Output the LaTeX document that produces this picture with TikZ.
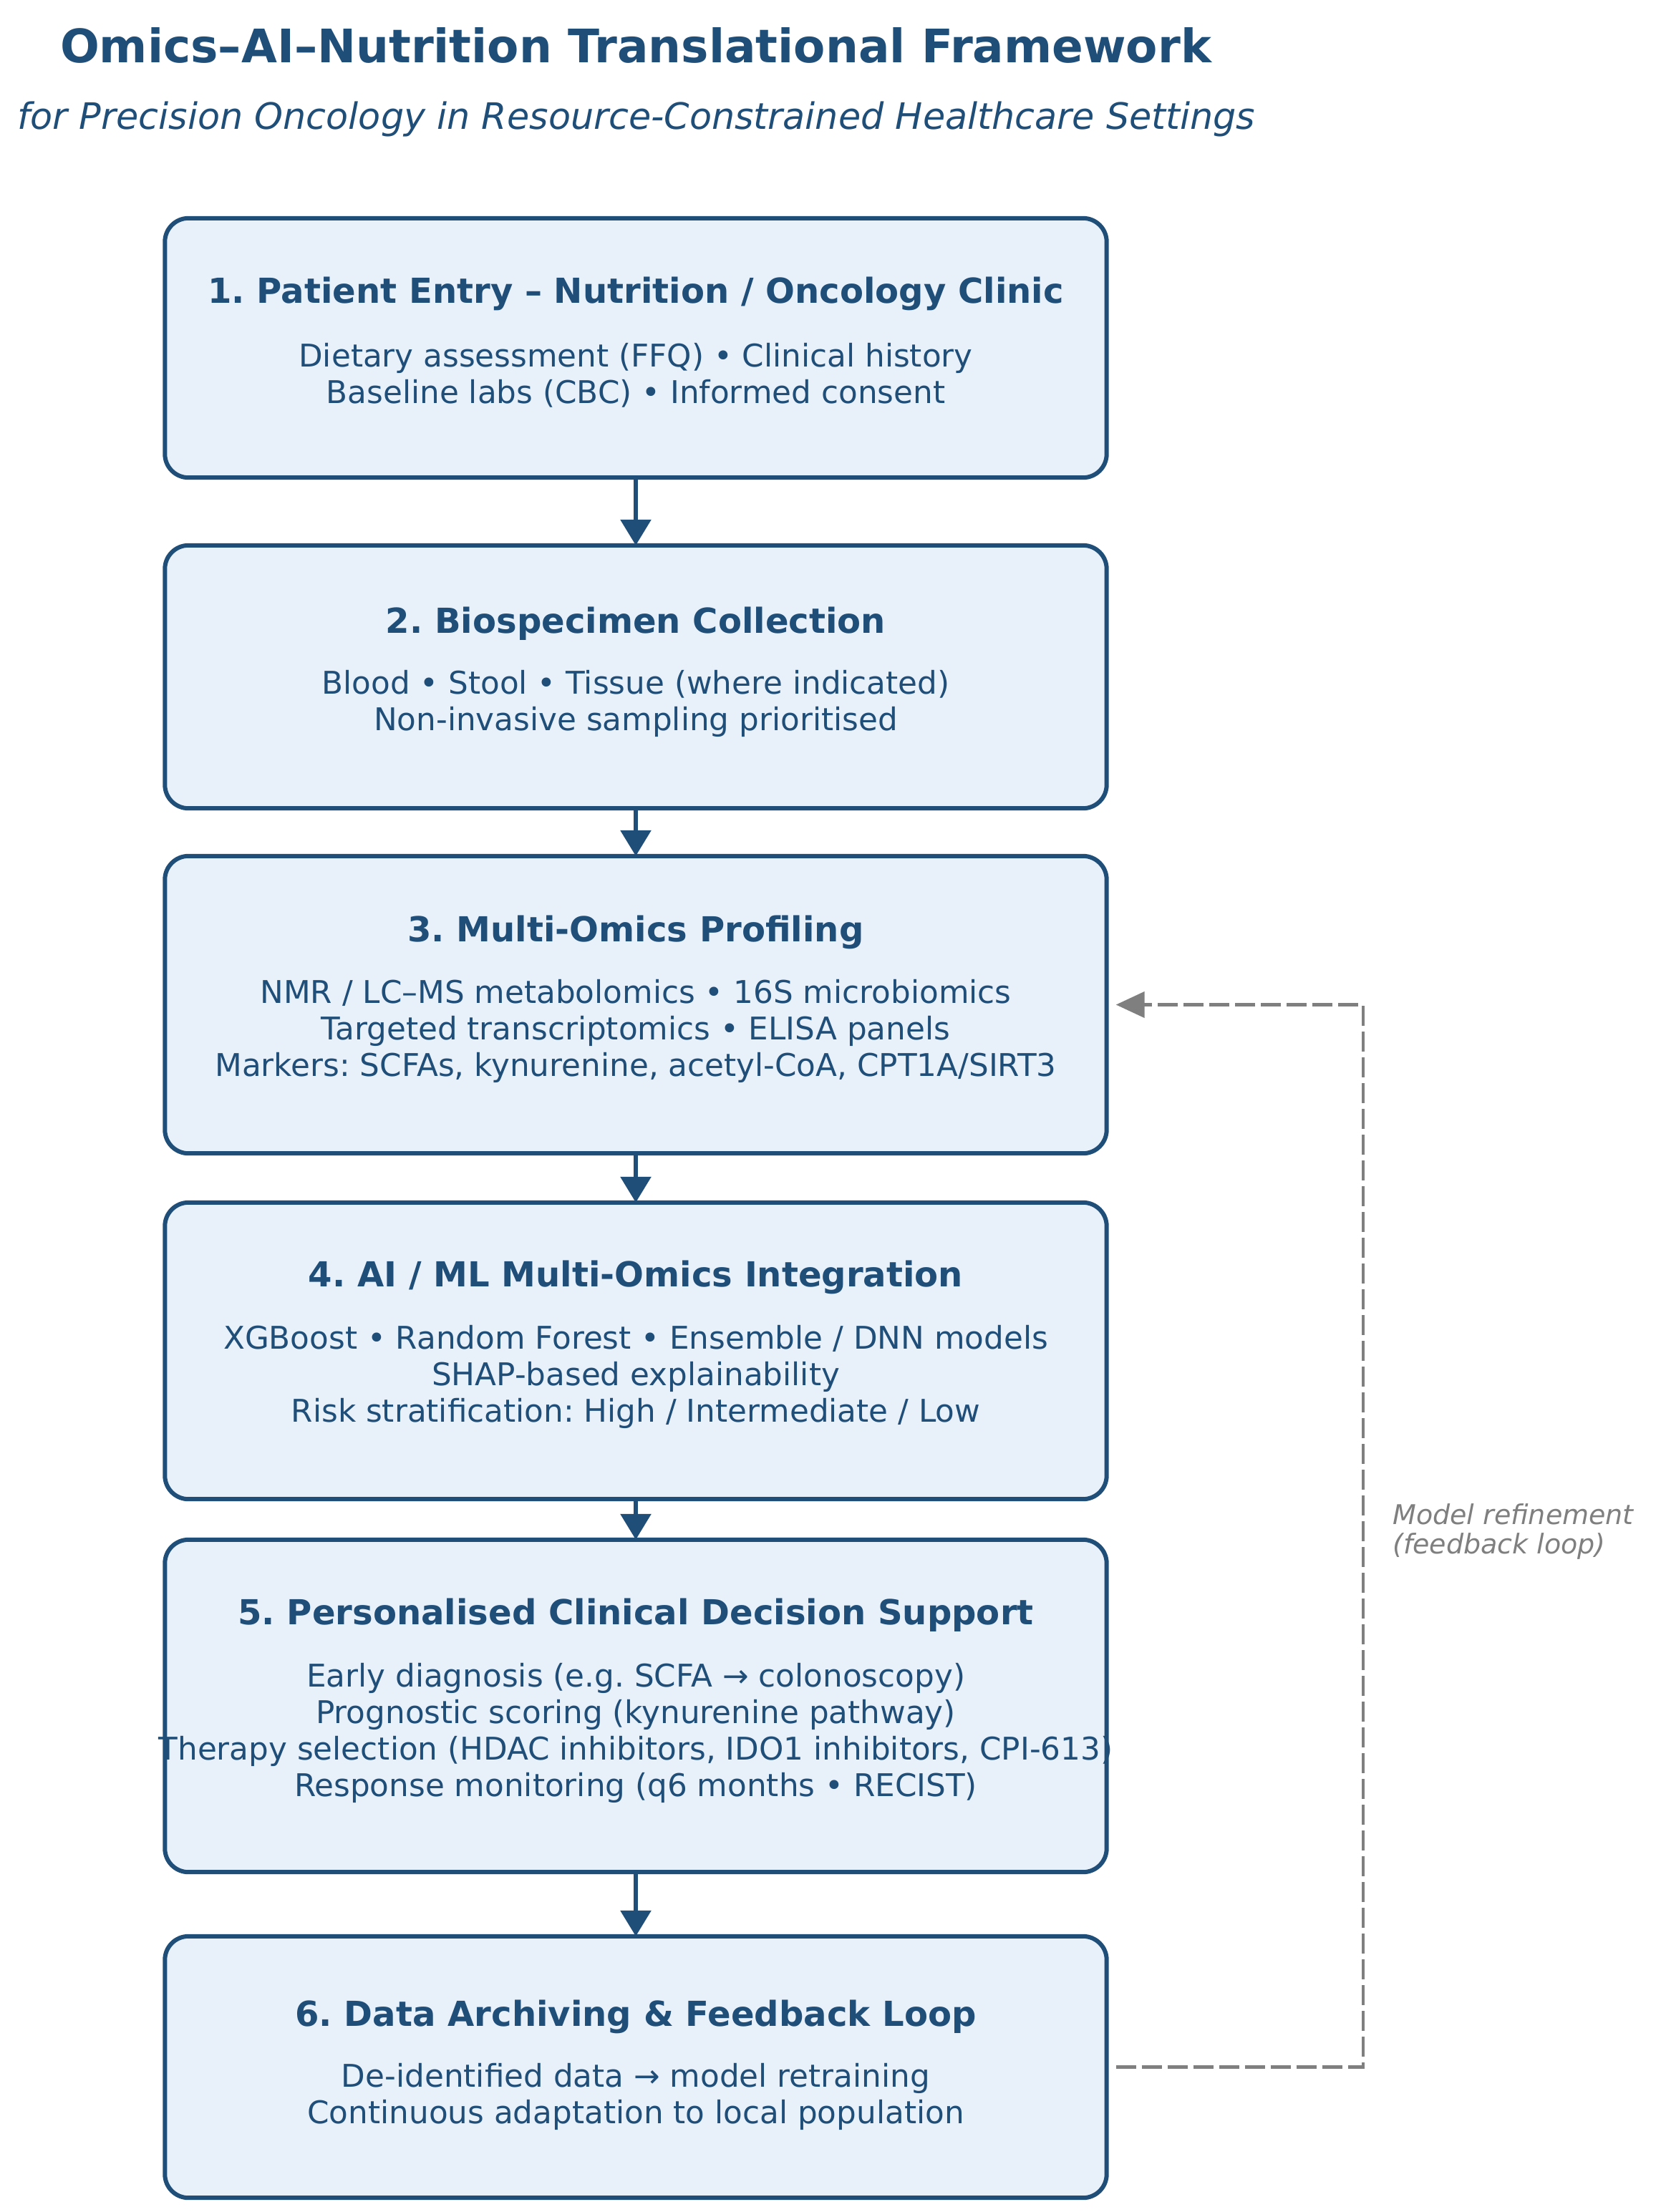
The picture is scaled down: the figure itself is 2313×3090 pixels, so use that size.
\documentclass[tikz,border=0pt]{standalone}
\usepackage{fontspec}
\setmainfont{DejaVu Sans}
\usepackage{xcolor}
\usepackage{tikz}
\usetikzlibrary{
    arrows.meta,
}
\frenchspacing

\definecolor{navy}{HTML}{1F4E79}
\definecolor{boxfill}{HTML}{E8F0FA}
\definecolor{loopgray}{HTML}{7F7F7F}

\tikzset{
    stagebg/.style={rectangle,rounded corners=33pt,fill=boxfill,
        minimum width=1315pt,inner sep=0pt},
    stageline/.style={draw=navy,line width=6pt,rounded corners=33pt},
    stagetitle/.style={text=navy,inner sep=0pt,
        font=\fontsize{48.1}{56}\selectfont\bfseries},
    stagetext/.style={text=navy,inner sep=0pt,align=center,
        font=\fontsize{43.7}{51}\selectfont},
    flow/.style={draw=navy,line width=6pt,
        -{Triangle[length=36pt,width=42pt]}},
    feedback/.style={draw=loopgray,line width=4.5pt,dash pattern=on 28pt off 8pt,
        -{Triangle[length=40pt,width=36pt]}},
}

\begin{document}
\begin{tikzpicture}[x=1pt,y=-1pt]
    % \draw[help lines,step=100] (0,0) grid (2313,3090);
    \path[fill=white,use as bounding box] (0,0) rectangle (2313,3090);

    % Heading
    \node[text=navy,font=\fontsize{64.5}{70}\selectfont\bfseries] (title) at (888,63)
        {Omics–AI–Nutrition Translational Framework};
    \node[text=navy,font=\fontsize{50.8}{56}\selectfont\itshape] (subtitle) at (889,166)
        {for Precision Oncology in Resource-Constrained Healthcare Settings};

    % Stage boxes (fill)
    \foreach \i / \y / \h in {1/486/362,2/945.5/367,3/1403.5/415,4/1887/414,5/2383/464,6/2887.5/365} {
        \node[stagebg,minimum height=\h pt] (b\i) at (888,\y) {};
    }

    % Stage titles
    \foreach \i / \y / \t in {
            1/410/{1. Patient Entry – Nutrition / Oncology Clinic},
            2/871/{2. Biospecimen Collection},
            3/1302/{3. Multi-Omics Profiling},
            4/1784/{4. AI / ML Multi-Omics Integration},
            5/2256/{5. Personalised Clinical Decision Support},
            6/2817/{6. Data Archiving \& Feedback Loop}} {

        \node[stagetitle] (t\i) at (888,\y) {\t};

    }

    % Stage contents
    \node[stagetext] (c1) at (888,524)
        {Dietary assessment (FFQ) • Clinical history\\
         Baseline labs (CBC) • Informed consent};
    \node[stagetext] (c2) at (888,982.5)
        {Blood • Stool • Tissue (where indicated)\\
         Non-invasive sampling prioritised};
    \node[stagetext] (c3) at (888,1440.5)
        {NMR / LC–MS metabolomics • 16S microbiomics\\
         Targeted transcriptomics • ELISA panels\\
         Markers: SCFAs, kynurenine, acetyl-CoA, CPT1A/SIRT3};
    \node[stagetext] (c4) at (888,1923.5)
        {XGBoost • Random Forest • Ensemble / DNN models\\
         SHAP-based explainability\\
         Risk stratification: High / Intermediate / Low};
    \node[stagetext] (c5) at (888,2421)
        {Early diagnosis (e.g. SCFA → colonoscopy)\\
         Prognostic scoring (kynurenine pathway)\\
         Therapy selection (HDAC inhibitors, IDO1 inhibitors, CPI-613)\\
         Response monitoring (q6 months • RECIST)};
    \node[stagetext] (c6) at (888,2929)
        {De-identified data → model retraining\\
         Continuous adaptation to local population};

    % Stage borders
    \foreach \b in {b1,b2,b3,b4,b5,b6} {
        \draw[stageline] (\b.south west) rectangle (\b.north east);
    }

    % Flow arrows
    \foreach \a / \b in {b1/b2,b2/b3,b3/b4,b4/b5,b5/b6} {
        \draw[flow] (\a.south) -- (\b.north);
    }

    % Feedback loop
    \coordinate (loop) at (1904,1399);
    \draw[feedback] ([xshift=13pt]b6.east) -- (b6.east -| loop)
        -- (b3.east -| loop) -- ([xshift=13pt]b3.east);
    \node[text=loopgray,align=left,anchor=west,inner sep=0pt,
        font=\fontsize{38}{41}\selectfont\itshape] (looplabel) at (1945,2139)
        {Model refinement\\(feedback loop)};

\end{tikzpicture}
\end{document}
